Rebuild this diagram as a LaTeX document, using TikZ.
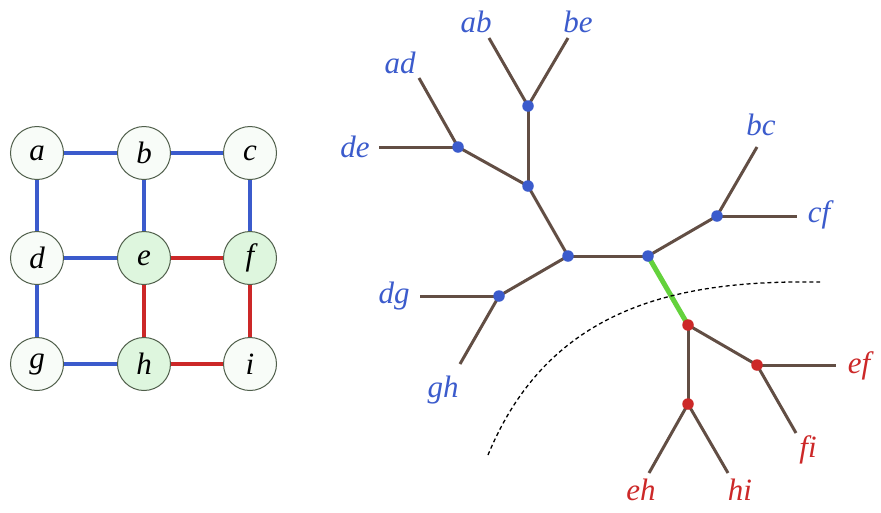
\documentclass[tikz,border=0pt]{standalone}
\usepackage{fontspec}
\setmainfont{Liberation Serif}
\usepackage{tikz}
\usepackage{xcolor}
\usetikzlibrary{backgrounds}

\definecolor{cutblue}{RGB}{59,91,204}
\definecolor{cutred}{RGB}{204,40,40}
\definecolor{edgebrown}{RGB}{98,78,68}
\definecolor{cutgreen}{RGB}{100,210,60}
\definecolor{sidegreen}{RGB}{222,246,222}
\definecolor{palegreen}{RGB}{248,252,248}
\definecolor{ringgray}{RGB}{80,95,75}

\tikzset{
  vertex/.style={circle,draw=ringgray,line width=1pt,fill=palegreen,
    minimum size=53pt,inner sep=0pt,font=\fontsize{31}{31}\selectfont\itshape},
  blueedge/.style={cutblue,line width=4pt},
  rededge/.style={cutred,line width=4pt},
  branch/.style={edgebrown,line width=3pt},
  dot/.style={circle,fill=#1,inner sep=0pt,minimum size=11.5pt},
  lbl/.style={anchor=base,text=#1,font=\fontsize{31}{31}\selectfont\itshape}
}

\begin{document}
\begin{tikzpicture}[x=1pt,y=-1pt]
  \useasboundingbox (0,0) rectangle (881,512);
  % the grid graph
  \foreach \n/\x/\y in {a/37/153,b/144/153,c/250/153,d/37/258,g/37/364,i/250/364}
    \node[vertex] (\n) at (\x,\y) {\n};
  \foreach \n/\x/\y in {e/144/258,f/250/258,h/144/364}
    \node[vertex,fill=sidegreen] (\n) at (\x,\y) {\n};
  \foreach \u/\v in {a/b,b/c,a/d,b/e,c/f,d/e,d/g,g/h}
    \draw[blueedge] (\u) -- (\v);
  \foreach \u/\v in {e/f,e/h,f/i,h/i}
    \draw[rededge] (\u) -- (\v);

  % the tree
  \foreach \n/\x/\y/\c in {tA/568/256/cutblue,tB/648/256/cutblue,tC/528/186/cutblue,
      tD/499/296/cutblue,tE/528/106/cutblue,tF/458/147/cutblue,tG/717/216/cutblue,
      tH/688/325/cutred,tI/757/365/cutred,tJ/688/404/cutred}
    \node[dot=\c] (\n) at (\x,\y) {};
  \foreach \n/\x/\y in {lab/489/38,lbe/568/38,lad/419/78,lde/379/147,
      lbc/757/147,lcf/797/216,ldg/420/296,lgh/460/364,
      lef/836/365,lfi/796/433,leh/649/473,lhi/728/473}
    \coordinate (\n) at (\x,\y);
  \begin{pgfonlayer}{background}
    \foreach \u/\v in {tA/tC,tA/tD,tA/tB,tC/tE,tC/tF,tB/tG,tH/tI,tH/tJ}
      \draw[branch] (\u.center) -- (\v.center);
    \foreach \u/\v in {tE/lab,tE/lbe,tF/lad,tF/lde,tG/lbc,tG/lcf,tD/ldg,tD/lgh,
        tI/lef,tI/lfi,tJ/leh,tJ/lhi}
      \draw[branch] (\u.center) -- (\v);
    \draw[cutgreen,line width=5pt] (tB.center) -- (tH.center);
  \end{pgfonlayer}

  % labels
  \foreach \t/\x/\y/\c in {ab/476/32/cutblue,be/578/32/cutblue,ad/400/73/cutblue,
      de/355/157/cutblue,bc/761/135/cutblue,cf/819/222/cutblue,
      dg/394/303/cutblue,gh/443/397/cutblue,
      ef/859/373/cutred,fi/808/457/cutred,eh/641/500/cutred,hi/740/500/cutred}
    \node[lbl=\c] (n\t) at (\x,\y) {\t};

  \draw[line width=1.3pt,dash pattern=on 4pt off 3pt]
    (488,455) .. controls (550,305) and (680,280) .. (820,282);
\end{tikzpicture}
\end{document}
